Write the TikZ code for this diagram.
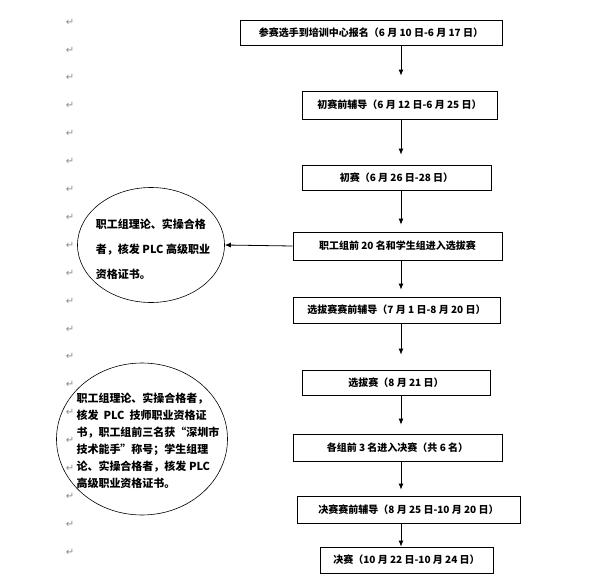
\documentclass[tikz,border=0pt]{standalone}
\usepackage{fontspec}
\setmainfont{Noto Sans CJK SC}
\newfontfamily\symfont{DejaVu Sans}
\usetikzlibrary{arrows.meta,shapes.geometric}
\begin{document}
\begin{tikzpicture}[x=1pt,y=-1pt,
  box/.style={draw,line width=0.8pt,inner sep=0pt,font=\fontsize{10}{12}\selectfont\bfseries},
  arr/.style={line width=0.8pt,-{Latex[length=6pt,width=5pt]}},
  oval/.style={draw,ellipse,line width=0.6pt,inner sep=0pt},
  ovaltext/.style={inner sep=0pt,font=\fontsize{11}{17}\selectfont\bfseries,align=left},
  pmark/.style={text=black!45,font=\symfont\fontsize{10}{10}\selectfont,inner sep=0pt}]
\useasboundingbox (0,0) rectangle (598,584);
\fill[white] (0,0) rectangle (598,584);
\foreach \k in {0,...,19} { \node[pmark] (p\k) at (70,22+27.9*\k) {↵}; }
\node[box,minimum width=262,minimum height=25] (b1) at (371,32.5) {参赛选手到培训中心报名（6 月 10 日-6 月 17 日）};
\node[box,minimum width=195,minimum height=28] (b2) at (399.5,105) {初赛前辅导（6 月 12 日-6 月 25 日）};
\node[box,minimum width=189,minimum height=25] (b3) at (396.5,177.5) {初赛（6 月 26 日-28 日）};
\node[box,minimum width=209,minimum height=28] (b4) at (397.5,246) {职工组前 20 名和学生组进入选拔赛};
\node[box,minimum width=207,minimum height=26] (b5) at (396.5,310) {选拔赛赛前辅导（7 月 1 日-8 月 20 日）};
\node[box,minimum width=188,minimum height=25] (b6) at (396,382.5) {选拔赛（8 月 21 日）};
\node[box,minimum width=209,minimum height=27] (b7) at (397.5,447.5) {各组前 3 名进入决赛（共 6 名）};
\node[box,minimum width=223,minimum height=27] (b8) at (408.5,509.5) {决赛赛前辅导（8 月 25 日-10 月 20 日）};
\node[box,minimum width=173,minimum height=26] (b9) at (406.5,560) {决赛（10 月 22 日-10 月 24 日）};
\coordinate (ax) at (401,0);
\draw[arr,shorten >=15pt] (b1.south -| ax) -- (b2.north -| ax);
\draw[arr,shorten >=10pt] (b2.south -| ax) -- (b3.north -| ax);
\draw[arr,shorten >=7pt] (b3.south -| ax) -- (b4.north -| ax);
\draw[arr,shorten >=7pt] (b4.south -| ax) -- (b5.north -| ax);
\draw[arr,shorten >=15pt] (b5.south -| ax) -- (b6.north -| ax);
\draw[arr,shorten >=9pt] (b6.south -| ax) -- (b7.north -| ax);
\draw[arr,shorten >=6pt] (b7.south -| ax) -- (b8.north -| ax);
\draw[arr] (b8.south -| ax) -- (b9.north -| ax);
\node[oval,minimum width=147,minimum height=115] (e1) at (151,245) {};
\node[ovaltext,font=\fontsize{11}{25}\selectfont\bfseries] (t1) at (153,249) {职工组理论、实操合格\\者，核发 PLC 高级职业\\资格证书。};
\node[oval,minimum width=171,minimum height=152] (e2) at (142,439) {};
\node[ovaltext] (t2) at (148,441) {职工组理论、实操合格者，\\核发\ \ PLC\ \ 技师职业资格证\\书，职工组前三名获“深圳市\\技术能手”称号；学生组理\\论、实操合格者，核发 PLC\\高级职业资格证书。};
\draw[arr] (b4.west) -- (e1.east);
\end{tikzpicture}
\end{document}
